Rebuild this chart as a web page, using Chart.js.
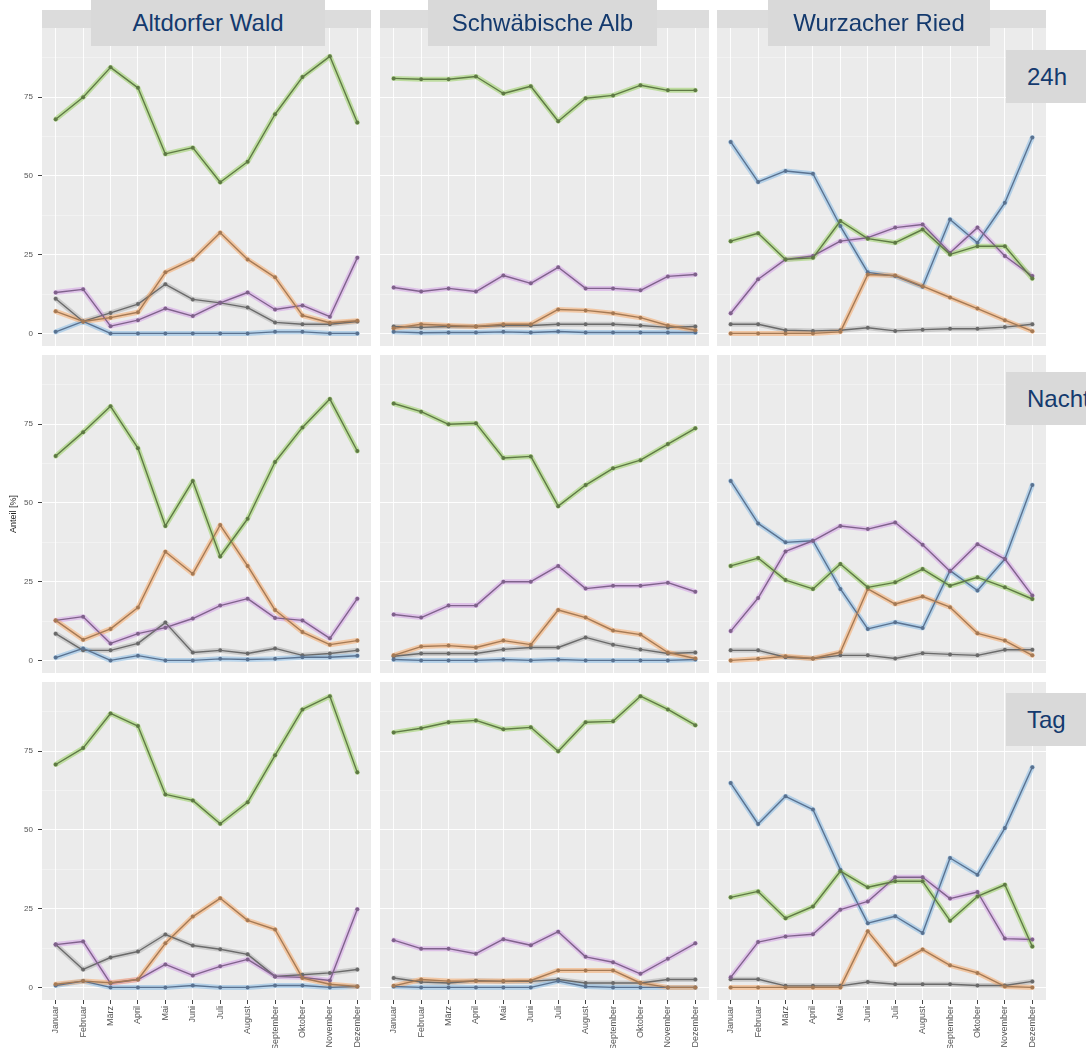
<!DOCTYPE html>
<html lang="de">
<head>
<meta charset="utf-8">
<title>Anteil [%] je Monat</title>
<script src="https://cdn.jsdelivr.net/npm/chart.js@4.4.1/dist/chart.umd.min.js"></script>
<style>
  html, body { margin: 0; padding: 0; background: #fff; }
  #figure { position: relative; width: 1086px; height: 1048px; overflow: hidden;
            font-family: "Liberation Sans", Arial, sans-serif; }
  .panel { position: absolute; }
  .strip { position: absolute; top: 10px; height: 18px; background: #dcdcdc; }
  .box { position: absolute; background: #d9d9d9; color: #143a6e; font-size: 24px; line-height: 1;
         display: flex; align-items: center; white-space: nowrap; z-index: 5; box-sizing: border-box; }
  .box.top { top: 0; height: 46px; justify-content: center; }
  .box.side { left: 1006px; width: 110px; height: 53px; padding-left: 21px; }
</style>
</head>
<body>
<div id="figure"></div>
<script>
// Kategorien und Beschriftungen
const monate = ['Januar', 'Februar', 'März', 'April', 'Mai', 'Juni', 'Juli',
                'August', 'September', 'Oktober', 'November', 'Dezember'];
const standorte = ['Altdorfer Wald', 'Schwäbische Alb', 'Wurzacher Ried'];
const zeitraeume = ['24h', 'Nacht', 'Tag'];
const yTicks = [0, 25, 50, 75];

// Reihenfolge der Reihen in jedem Panel: grün, orange, lila, blau, grau
const AW_24H = [
  [68, 75, 84.5, 78, 57, 59, 48, 54.5, 69.6, 81.4, 88, 67],
  [7, 3.8, 5, 6.7, 19.4, 23.5, 32, 23.5, 17.8, 5.7, 3.4, 4],
  [13, 14, 2.3, 4.2, 7.9, 5.5, 9.7, 13, 7.6, 8.9, 5.3, 24],
  [0.5, 3.8, 0, 0, 0, 0, 0, 0, 0.5, 0.5, 0, 0],
  [11, 3.8, 6.5, 9.3, 15.6, 10.8, 9.7, 8.2, 3.5, 2.9, 2.9, 3.8]
];
const AW_NACHT = [
  [64.9, 72.5, 80.7, 67.4, 42.7, 57, 33, 45, 63, 74, 83, 66.5],
  [12.7, 6.6, 10, 16.8, 34.5, 27.5, 43, 30, 16, 9, 5, 6.3],
  [12.7, 13.9, 5.4, 8.5, 10.4, 13.3, 17.4, 19.6, 13.5, 12.7, 7, 19.6],
  [0.9, 3.8, 0, 1.5, 0, 0, 0.5, 0.3, 0.5, 1, 1, 1.5],
  [8.5, 3.2, 3.2, 5.4, 12, 2.5, 3.2, 2.2, 3.8, 1.6, 2.2, 3.2]
];
const AW_TAG = [
  [70.8, 76, 87, 83, 61.3, 59.4, 52, 58.8, 73.7, 88.3, 92.5, 68.3],
  [1, 2, 1.5, 2.5, 14, 22.5, 28.3, 21.3, 18.4, 3, 1, 0.3],
  [13.6, 14.6, 1.3, 2.5, 7.3, 3.8, 6.7, 8.9, 3.5, 3.2, 2.2, 24.8],
  [0.6, 2, 0, 0, 0, 0.6, 0, 0, 0.6, 0.6, 0, 0.3],
  [13.6, 5.7, 9.5, 11.4, 16.8, 13.3, 12.1, 10.5, 3.5, 4, 4.6, 5.7]
];
const SA_24H = [
  [81, 80.7, 80.7, 81.6, 76.2, 78.5, 67.4, 74.7, 75.6, 78.8, 77.2, 77.2],
  [1.6, 2.9, 2.5, 2.2, 2.9, 2.9, 7.6, 7.3, 6.4, 5, 2.5, 1],
  [14.6, 13.3, 14.3, 13.3, 18.4, 15.9, 21, 14.3, 14.3, 13.7, 18.1, 18.7],
  [0.5, 0.2, 0.3, 0.3, 0.5, 0.3, 0.6, 0.3, 0.3, 0.3, 0.3, 0.3],
  [2.2, 1.9, 2.2, 2.2, 2.5, 2.5, 2.9, 2.9, 2.9, 2.5, 1.9, 2.2]
];
const SA_NACHT = [
  [81.6, 79, 75, 75.3, 64.3, 64.8, 49, 55.7, 61, 63.6, 68.7, 73.7],
  [1.6, 4.4, 4.7, 4.1, 6.3, 5, 16, 13.6, 9.5, 8.2, 2.5, 0.6],
  [14.6, 13.6, 17.4, 17.4, 25, 25, 30, 22.8, 23.7, 23.7, 24.7, 21.8],
  [0.3, 0, 0, 0, 0.3, 0, 0.3, 0, 0, 0, 0, 0.3],
  [1.3, 2.2, 2.2, 2.2, 3.5, 4.1, 4.1, 7.3, 5, 3.5, 2.2, 2.5]
];
const SA_TAG = [
  [81, 82.3, 84.2, 84.8, 82, 82.6, 75, 84.2, 84.5, 92.5, 88.3, 83.3],
  [0.5, 2.5, 2, 2, 2, 2.2, 5.4, 5.4, 5.4, 1.4, 0, 0],
  [15, 12.3, 12.3, 10.7, 15.3, 13.4, 17.7, 9.7, 8, 4.3, 9.1, 14],
  [0.3, 0, 0, 0, 0, 0, 2, 0.3, 0, 0, 0, 0],
  [3, 1.7, 1.4, 2.1, 1.9, 1.9, 2.5, 1.4, 1.4, 1.4, 2.5, 2.5]
];
const WR_24H = [
  [29.3, 31.8, 23.5, 24, 35.7, 30.1, 28.8, 33, 25.1, 27.7, 27.7, 17.4],
  [0, 0, 0, 0, 0.5, 18.7, 18.4, 15, 11.4, 7.9, 4.2, 0.7],
  [6.4, 17.2, 23.5, 24.6, 29.3, 30.4, 33.6, 34.6, 25.6, 33.6, 24.6, 18.2],
  [60.8, 48.1, 51.6, 50.7, 34.1, 19.4, 18.2, 14.8, 36.2, 28.8, 41.5, 62.2],
  [2.9, 2.9, 1, 0.8, 1, 1.8, 0.8, 1.2, 1.5, 1.5, 2, 2.9]
];
const WR_NACHT = [
  [30, 32.5, 25.5, 22.7, 30.6, 23.2, 24.8, 29, 23.7, 26.4, 23.2, 19.5],
  [0, 0.5, 1.3, 0.6, 2.6, 22.7, 17.9, 20.3, 16.9, 8.6, 6.3, 1.6],
  [9.3, 19.8, 34.6, 38, 42.7, 41.7, 43.8, 36.7, 28.3, 36.9, 32.2, 20.6],
  [57, 43.5, 37.5, 38, 22.7, 10, 12.1, 10.3, 28.5, 22.2, 32.2, 55.7],
  [3.2, 3.2, 1, 0.6, 1.6, 1.6, 0.6, 2.3, 1.9, 1.6, 3.4, 3.4]
];
const WR_TAG = [
  [28.6, 30.5, 22, 25.7, 36.9, 31.8, 33.7, 33.7, 21.2, 28.9, 32.6, 13],
  [0, 0, 0, 0, 0, 17.8, 7.2, 12, 7, 4.6, 0.3, 0],
  [3.2, 14.4, 16.2, 16.9, 24.7, 27.3, 35, 35, 28.2, 30.3, 15.5, 15.2],
  [64.9, 51.9, 60.7, 56.5, 37.4, 20.4, 22.6, 17.3, 41.1, 35.8, 50.6, 69.9],
  [2.6, 2.6, 0.5, 0.5, 0.5, 1.7, 1, 1, 1, 0.6, 0.6, 1.9]
];

// Zeilen = Zeitraum, Spalten = Standort
const panels = [
  [AW_24H, SA_24H, WR_24H],
  [AW_NACHT, SA_NACHT, WR_NACHT],
  [AW_TAG, SA_TAG, WR_TAG]
];

// Farben: breiter heller Saum + dunkle Linie
const saum = ['rgba(160,210,110,0.6)', 'rgba(246,170,105,0.55)', 'rgba(212,160,230,0.55)',
              'rgba(135,185,228,0.55)', 'rgba(165,165,165,0.45)'];
const linie = ['#5f7a45', '#a57a55', '#7f628b', '#5a7290', '#6a6a6a'];

// Geometrie
const panelLeft = [42, 380, 717];
const panelTop = [28, 355, 682];
const panelW = 329, panelH = 318;
const yAxisW = 42, xAxisH = 48;
const schrift = '"Liberation Sans", Arial, sans-serif';

const figure = document.getElementById('figure');

const panelBg = {
  id: 'panelBg',
  beforeDraw(chart) {
    const a = chart.chartArea, ctx = chart.ctx;
    ctx.save();
    ctx.fillStyle = '#ebebeb';
    ctx.fillRect(a.left, a.top, a.width, a.height);
    ctx.restore();
  }
};

// keine automatische Zusatzpolsterung für Randbeschriftungen
function ohnePadding(s) {
  s.paddingTop = 0; s.paddingBottom = 0; s.paddingLeft = 0; s.paddingRight = 0;
}

function zeichnePanel(row, col) {
  const isLeft = col === 0, isBottom = row === 2;
  const w = panelW + (isLeft ? yAxisW : 0);
  const h = panelH + (isBottom ? xAxisH : 0);
  const div = document.createElement('div');
  div.className = 'panel';
  div.style.left = (isLeft ? 0 : panelLeft[col]) + 'px';
  div.style.top = panelTop[row] + 'px';
  div.style.width = w + 'px';
  div.style.height = h + 'px';
  const canvas = document.createElement('canvas');
  canvas.width = w; canvas.height = h;
  canvas.style.width = w + 'px'; canvas.style.height = h + 'px';
  div.appendChild(canvas);
  figure.appendChild(div);

  const reihen = panels[row][col];
  const datasets = [];
  reihen.forEach((werte, i) => {
    datasets.push({
      data: werte, borderColor: saum[i], borderWidth: 5, pointRadius: 0,
      tension: 0, fill: false, order: 2, borderJoinStyle: 'round', borderCapStyle: 'round'
    });
    datasets.push({
      data: werte, borderColor: linie[i], borderWidth: 1.4, pointRadius: 2,
      pointBackgroundColor: linie[i], pointBorderWidth: 0,
      tension: 0, fill: false, order: 1, borderJoinStyle: 'round'
    });
  });

  const gridWerte = [0, 12.5, 25, 37.5, 50, 62.5, 75, 87.5];

  new Chart(canvas, {
    type: 'line',
    data: { labels: monate, datasets: datasets },
    options: {
      responsive: false,
      animation: false,
      devicePixelRatio: 1,
      events: [],
      layout: { padding: 0, autoPadding: false },
      plugins: { legend: { display: false }, tooltip: { enabled: false } },
      scales: {
        x: {
          offset: true,
          border: { display: false },
          grid: { color: 'rgba(255,255,255,0.9)', lineWidth: 1, offset: false,
                  drawTicks: isBottom, tickLength: 4, tickColor: '#444' },
          ticks: { display: isBottom, autoSkip: false, minRotation: 90, maxRotation: 90,
                   padding: 2, color: '#555', font: { size: 9, family: schrift } },
          afterFit: s => { s.height = isBottom ? xAxisH : 0; ohnePadding(s); }
        },
        y: {
          min: -4, max: 97,
          afterBuildTicks: s => { s.ticks = gridWerte.map(v => ({ value: v })); },
          border: { display: false },
          grid: {
            color: c => yTicks.includes(c.tick.value) ? 'rgba(255,255,255,0.95)' : 'rgba(255,255,255,0.6)',
            lineWidth: c => yTicks.includes(c.tick.value) ? 1 : 0.6,
            drawTicks: isLeft, tickLength: 4,
            tickColor: c => yTicks.includes(c.tick.value) ? '#444' : 'rgba(0,0,0,0)'
          },
          ticks: { display: isLeft, autoSkip: false, padding: 5, color: '#555',
                   font: { size: 8, family: schrift },
                   callback: v => yTicks.includes(v) ? String(v) : '' },
          title: { display: isLeft && row === 1, text: 'Anteil [%]', color: '#222',
                   font: { size: 9, family: schrift }, padding: { top: 8, bottom: 0 } },
          afterFit: s => { s.width = isLeft ? yAxisW : 0; ohnePadding(s); }
        }
      }
    },
    plugins: [panelBg]
  });
}

for (let r = 0; r < 3; r++) {
  for (let c = 0; c < 3; c++) zeichnePanel(r, c);
}

// ggplot-Streifen oben
panelLeft.forEach(l => {
  const s = document.createElement('div');
  s.className = 'strip';
  s.style.left = l + 'px';
  s.style.width = panelW + 'px';
  figure.appendChild(s);
});

// Beschriftungskästen
const kastenOben = [[91, 234], [428, 229], [768, 222]];
standorte.forEach((name, i) => {
  const b = document.createElement('div');
  b.className = 'box top';
  b.style.left = kastenOben[i][0] + 'px';
  b.style.width = kastenOben[i][1] + 'px';
  b.textContent = name;
  figure.appendChild(b);
});
const kastenSeite = [50, 372, 693];
zeitraeume.forEach((name, i) => {
  const b = document.createElement('div');
  b.className = 'box side';
  b.style.top = kastenSeite[i] + 'px';
  b.textContent = name;
  figure.appendChild(b);
});
</script>
</body>
</html>
